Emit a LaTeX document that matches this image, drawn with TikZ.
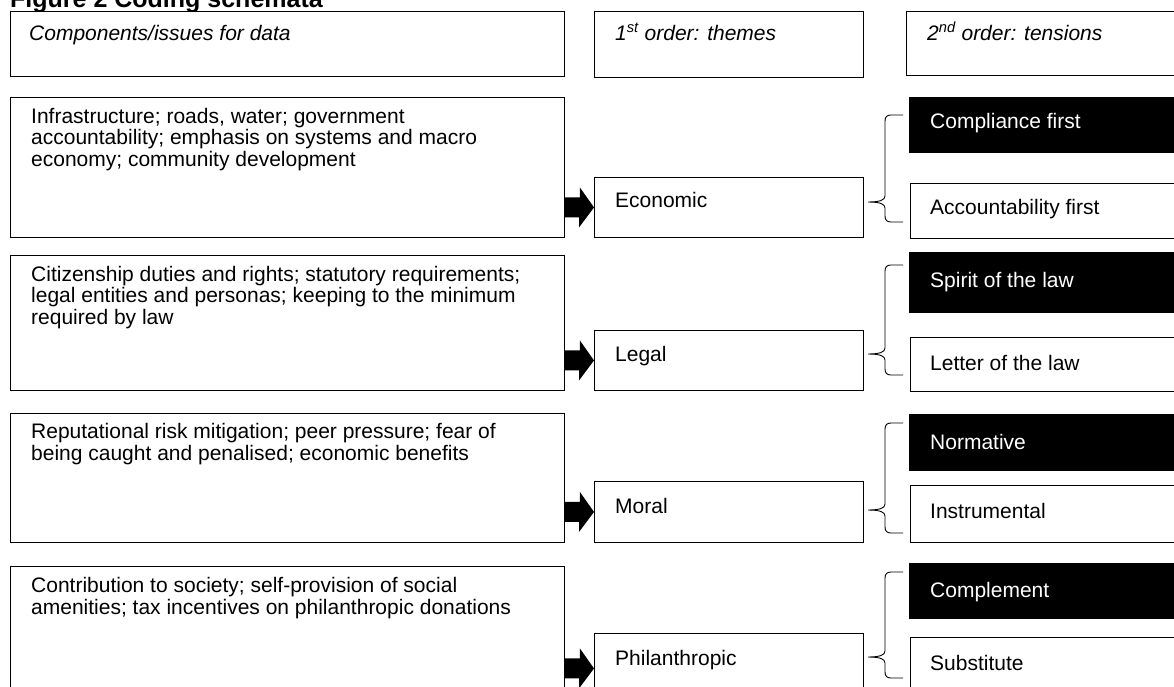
\documentclass[tikz,border=0pt]{standalone}
\usepackage{fontspec}
\setmainfont{Liberation Sans}
\usetikzlibrary{calc}
\newcommand\tbrace[3]{%
  \draw[brc] (903,#1) -- (891,#1) .. controls (887,#1) and (885,#1+2) .. (885,#1+6)
    -- (885,#2-6) .. controls (885,#2-2) and (880,#2) .. (868,#2)
    .. controls (880,#2) and (885,#2+2) .. (885,#2+6)
    -- (885,#3-6) .. controls (885,#3-2) and (887,#3) .. (891,#3) -- (903,#3);}
\begin{document}
\begin{tikzpicture}[x=1pt,y=-1pt,
  box/.style={draw=black, line width=0.9pt, inner sep=0pt, anchor=north west, fill=white},
  blk/.style={draw=black, fill=black, inner sep=0pt, anchor=north west},
  txt/.style={anchor=base west, inner sep=0pt, align=left, font=\fontsize{21}{21.5}\selectfont},
  wtxt/.style={txt, text=white},
  brc/.style={draw=black, line width=0.9pt},
  arr/.style={fill=black}]
\useasboundingbox (0,0) rectangle (1174,686);
\clip (0,0) rectangle (1174,686);
% title
\node[anchor=base west, inner sep=0pt, font=\fontsize{25}{27}\selectfont\bfseries] (title) at (10,7) {Figure 2 Coding schemata};
% header
\node[box, minimum width=554, minimum height=65] (hl) at (10,11) {};
\node[box, minimum width=269, minimum height=66] (hm) at (594,11) {};
\node[box, minimum width=300, minimum height=64] (hr) at (906,11) {};
\node[txt, font=\fontsize{21}{22}\selectfont\itshape] (hlt) at (29,40) {Components/issues for data};
\node[txt, font=\fontsize{21}{22}\selectfont\itshape] (hmt) at (615,40) {1\textsuperscript{st} order: themes};
\node[txt, font=\fontsize{21}{22}\selectfont\itshape] (hrt) at (927,40) {2\textsuperscript{nd} order: tensions};
% row 1
\node[box, minimum width=554, minimum height=140] (l1) at (10,97) {};
\node[box, minimum width=269, minimum height=60] (t1) at (594,177) {};
\node[blk, minimum width=300, minimum height=55] (b1) at (909,97) {};
\node[box, minimum width=300, minimum height=55] (w1) at (910,183) {};
\node[txt] (l1t) at (31,166) {Infrastructure; roads, water; government\\accountability; emphasis on systems and macro\\economy; community development};
\node[txt] (t1t) at (615,207) {Economic};
\node[wtxt] (b1t) at (930,128) {Compliance first};
\node[txt] (w1t) at (930,214) {Accountability first};
% row 2
\node[box, minimum width=554, minimum height=135] (l2) at (10,255) {};
\node[box, minimum width=269, minimum height=60] (t2) at (594,330) {};
\node[blk, minimum width=300, minimum height=60] (b2) at (909,252) {};
\node[box, minimum width=300, minimum height=54] (w2) at (910,337) {};
\node[txt] (l2t) at (31,324) {Citizenship duties and rights; statutory requirements;\\legal entities and personas; keeping to the minimum\\required by law};
\node[txt] (t2t) at (615,361) {Legal};
\node[wtxt] (b2t) at (930,287) {Spirit of the law};
\node[txt] (w2t) at (930,370) {Letter of the law};
% row 3
\node[box, minimum width=554, minimum height=129] (l3) at (10,413) {};
\node[box, minimum width=269, minimum height=61] (t3) at (594,481) {};
\node[blk, minimum width=300, minimum height=56] (b3) at (909,414) {};
\node[box, minimum width=300, minimum height=57] (w3) at (910,485) {};
\node[txt] (l3t) at (31,460) {Reputational risk mitigation; peer pressure; fear of\\being caught and penalised; economic benefits};
\node[txt] (t3t) at (615,513) {Moral};
\node[wtxt] (b3t) at (930,449) {Normative};
\node[txt] (w3t) at (930,518) {Instrumental};
% row 4
\node[box, minimum width=554, minimum height=140] (l4) at (10,566) {};
\node[box, minimum width=269, minimum height=70] (t4) at (594,633) {};
\node[blk, minimum width=300, minimum height=55] (b4) at (909,563) {};
\node[box, minimum width=300, minimum height=70] (w4) at (910,637) {};
\node[txt] (l4t) at (31,614) {Contribution to society; self-provision of social\\amenities; tax incentives on philanthropic donations};
\node[txt] (t4t) at (615,665) {Philanthropic};
\node[wtxt] (b4t) at (930,597) {Complement};
\node[txt] (w4t) at (930,670) {Substitute};
% arrows
\foreach \L/\T in {l1/t1,l2/t2,l3/t3,l4/t4}{
  \fill[arr] (\L.east |- \T.west) ++(0,-10) -- ++(15,0) -- ++(0,-10) -- (\T.west) -- ++(-15,20) -- ++(0,-10) -- ++(-15,0) -- cycle;
}
% braces
\tbrace{115}{202}{222}
\tbrace{265}{354}{375}
\tbrace{423}{510}{533}
\tbrace{572}{657}{678}
\end{tikzpicture}
\end{document}
